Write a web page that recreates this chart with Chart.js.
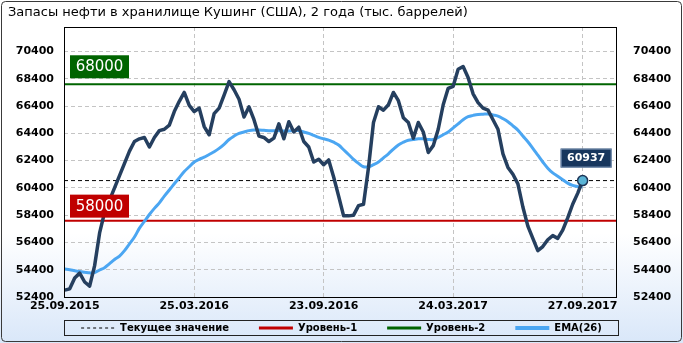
<!DOCTYPE html>
<html>
<head>
<meta charset="utf-8">
<script src="https://cdn.jsdelivr.net/npm/chart.js@4.4.0/dist/chart.umd.min.js"></script>
<style>
  html, body { margin: 0; padding: 0; background: #fff; }
</style>
</head>
<body>
<canvas id="cushing" width="683" height="343"></canvas>
<script>
// weekly stocks, index 0 = 25.09.2015
const dateLabels = ['25.09.2015', '25.03.2016', '23.09.2016', '24.03.2017', '27.09.2017'];
const dateTickIdx = [0, 26, 52, 78, 104];
const yTicks = [52400, 54400, 56400, 58400, 60400, 62400, 64400, 66400, 68400, 70400];

const stocks = [
  52900, 53000, 53800, 54150, 53500, 53200, 54700, 57100, 58600, 59500,
  60400, 61300, 62200, 63100, 63800, 64000, 64100, 63400, 64100, 64600,
  64700, 65000, 66000, 66750, 67400, 66450, 66000, 66250, 64900, 64300,
  65850, 66250, 67200, 68200, 67600, 66900, 65600, 66350, 65400, 64200,
  64100, 63800, 64050, 65100, 64000, 65250, 64500, 64850, 63800, 63400,
  62300, 62500, 62100, 62450, 61200, 59800, 58350, 58350, 58400, 59100,
  59200, 61900, 65200, 66350, 66100, 66500, 67400, 66800, 65550, 65200,
  64050, 65200, 64500, 63000, 63500, 64700, 66500, 67700, 67850, 69100,
  69300, 68500, 67300, 66650, 66250, 66100, 65400, 64700, 62900, 61900,
  61400, 60700, 59000, 57600, 56700, 55800, 56100, 56600, 56900, 56700,
  57300, 58200, 59200, 60000, 60937
];

const ema26 = [
  54450, 54400, 54330, 54270, 54220, 54170, 54200, 54380, 54550, 54850,
  55150, 55400, 55800, 56300, 56800, 57450, 57950, 58450, 58900, 59300,
  59800, 60250, 60700, 61150, 61600, 61950, 62300, 62500, 62650, 62850,
  63050, 63300, 63600, 63950, 64200, 64400, 64500, 64600, 64650, 64640,
  64620, 64600, 64600, 64600, 64570, 64580, 64600, 64600, 64500, 64400,
  64250, 64100, 64000, 63900, 63750, 63550, 63200, 62850, 62500, 62200,
  61950, 61950, 62100, 62300, 62600, 62900, 63250, 63550, 63750, 63900,
  63950, 64000, 64000, 63950, 63950, 64100, 64300, 64500, 64800, 65100,
  65400, 65620, 65720, 65790, 65810, 65820, 65750, 65670, 65480, 65250,
  64950, 64640, 64200, 63780, 63300, 62800, 62300, 61850, 61500, 61250,
  61000, 60750, 60580, 60500, 60480
];

const currentValue = 60937;
const level1 = 58000;
const level2 = 68000;

const xMin = -0.15, xMax = 110.7;
const font = 'DejaVu Sans';

const toPts = arr => arr.map((v, i) => ({ x: i, y: v }));
const flat = v => [{ x: xMin, y: v }, { x: xMax, y: v }];
const lastIdx = stocks.length - 1;

const legendItems = [
  { label: 'Текущее значение', color: '#000', width: 1, dash: [3, 3] },
  { label: 'Уровень-1', color: '#c00000', width: 3, dash: [] },
  { label: 'Уровень-2', color: '#006400', width: 3, dash: [] },
  { label: 'EMA(26)', color: '#4ba6f2', width: 4, dash: [] }
];

const decor = {
  id: 'decor',
  beforeDraw(chart) {
    const c = chart.ctx, w = chart.width, h = chart.height;
    const g = c.createLinearGradient(0, 0, 0, h);
    g.addColorStop(0, '#ffffff');
    g.addColorStop(0.68, '#ffffff');
    g.addColorStop(1, '#d9e7f9');
    c.save();
    c.fillStyle = g;
    c.fillRect(0, 0, w, h);
    c.restore();
  },
  afterDatasetsDraw(chart) {
    const c = chart.ctx, a = chart.chartArea;
    const y = chart.scales.y, x = chart.scales.x;
    c.save();
    c.strokeStyle = '#000';
    c.lineWidth = 1;
    c.strokeRect(Math.round(a.left) + 0.5, Math.round(a.top) + 0.5,
      Math.round(a.right - a.left), Math.round(a.bottom - a.top));

    // level labels
    c.font = '15px ' + font;
    c.textBaseline = 'middle';
    c.textAlign = 'center';
    const tag = (val, bg, dy) => {
      const py = y.getPixelForValue(val);
      c.fillStyle = bg;
      c.fillRect(a.left + 6, py + dy, 59, 23);
      c.fillStyle = '#fff';
      c.fillText(String(val), a.left + 35.5, py + dy + 12);
    };
    tag(level2, '#006400', -29);
    tag(level1, '#c00000', -26);

    // current value label
    const px = x.getPixelForValue(lastIdx), py = y.getPixelForValue(currentValue);
    const bx = px - 22, by = py - 32;
    c.fillStyle = '#17365d';
    c.fillRect(bx, by, 51, 19);
    c.strokeStyle = '#7f97b8';
    c.strokeRect(bx + 0.5, by + 0.5, 50, 18);
    c.fillStyle = '#fff';
    c.font = 'bold 11px ' + font;
    c.fillText(String(currentValue), bx + 25.5, by + 10);
    c.restore();
  },
  afterDraw(chart) {
    const c = chart.ctx, w = chart.width, h = chart.height;
    c.save();
    // outer frame
    c.strokeStyle = '#3a3a3a';
    c.lineWidth = 1;
    c.beginPath();
    c.roundRect(1.5, 1.5, w - 3, h - 3, 4);
    c.stroke();

    // title
    c.fillStyle = '#000';
    c.font = '13px ' + font;
    c.textBaseline = 'middle';
    c.textAlign = 'left';
    c.fillText('Запасы нефти в хранилище Кушинг (США), 2 года (тыс. баррелей)', 8, 13);

    // legend
    const a = chart.chartArea;
    const lx = Math.round(a.left) + 0.5, lw = 554, ly = 320.5, lh = 15;
    c.strokeStyle = '#222';
    c.strokeRect(lx, ly, lw, lh);
    c.font = 'bold 10px ' + font;
    const sample = 34, gap = 5, itemGap = 30;
    const widths = legendItems.map(it => sample + gap + c.measureText(it.label).width);
    const total = widths.reduce((s, v) => s + v, 0) + itemGap * (legendItems.length - 1);
    let cx = lx + (lw - total) / 2;
    const cy = ly + lh / 2;
    legendItems.forEach((it, i) => {
      c.beginPath();
      c.setLineDash(it.dash);
      c.strokeStyle = it.color;
      c.lineWidth = it.width;
      c.moveTo(cx, cy);
      c.lineTo(cx + sample, cy);
      c.stroke();
      c.setLineDash([]);
      c.fillStyle = '#000';
      c.fillText(it.label, cx + sample + gap, cy + 0.5);
      cx += widths[i] + itemGap;
    });
    c.restore();
  }
};

const yTickOpts = (pad) => ({
  color: '#000',
  padding: pad,
  font: { family: font, size: 11, weight: 'bold' },
  callback: v => String(v)
});

new Chart(document.getElementById('cushing'), {
  type: 'line',
  data: {
    datasets: [
      {
        label: 'Запасы',
        data: toPts(stocks),
        borderColor: '#253f5f',
        borderWidth: 3.5,
        borderJoinStyle: 'round',
        tension: 0,
        pointRadius: ctx => ctx.dataIndex === lastIdx ? 5 : 0,
        pointBackgroundColor: '#5ab4d6',
        pointBorderColor: '#1d3557',
        pointBorderWidth: 1.5
      },
      {
        label: 'EMA(26)',
        data: toPts(ema26),
        borderColor: '#4ba6f2',
        borderWidth: 3,
        tension: 0.4,
        pointRadius: 0
      },
      {
        label: 'Уровень-2',
        data: flat(level2),
        borderColor: '#006400',
        borderWidth: 2,
        pointRadius: 0
      },
      {
        label: 'Уровень-1',
        data: flat(level1),
        borderColor: '#c00000',
        borderWidth: 2,
        pointRadius: 0
      },
      {
        label: 'Текущее значение',
        data: flat(currentValue),
        borderColor: '#000',
        borderWidth: 1,
        borderDash: [4, 3],
        pointRadius: 0
      }
    ]
  },
  options: {
    responsive: false,
    animation: false,
    layout: { padding: { top: 27, bottom: 30, left: 0, right: 0 } },
    plugins: {
      legend: { display: false },
      tooltip: { enabled: false }
    },
    scales: {
      x: {
        type: 'linear',
        min: xMin,
        max: xMax,
        afterBuildTicks: s => { s.ticks = dateTickIdx.map(v => ({ value: v })); },
        afterFit: s => { s.height = 16; },
        ticks: {
          autoSkip: false,
          maxRotation: 0,
          color: '#000',
          padding: 3,
          font: { family: font, size: 11, weight: 'bold' },
          callback: v => dateLabels[dateTickIdx.indexOf(v)]
        },
        grid: { color: '#c4c4c4', drawTicks: false },
        border: { display: false, dash: [4, 3] }
      },
      y: {
        position: 'left',
        min: 52400,
        max: 72200,
        afterBuildTicks: s => { s.ticks = yTicks.map(v => ({ value: v })); },
        afterFit: s => { s.width = 64; },
        ticks: yTickOpts(10),
        grid: { color: '#c4c4c4', drawTicks: false },
        border: { display: false, dash: [4, 3] }
      },
      y2: {
        position: 'right',
        min: 52400,
        max: 72200,
        afterBuildTicks: s => { s.ticks = yTicks.map(v => ({ value: v })); },
        afterFit: s => { s.width = 67; },
        ticks: yTickOpts(9),
        grid: { display: false },
        border: { display: false }
      }
    }
  },
  plugins: [decor]
});
</script>
</body>
</html>
